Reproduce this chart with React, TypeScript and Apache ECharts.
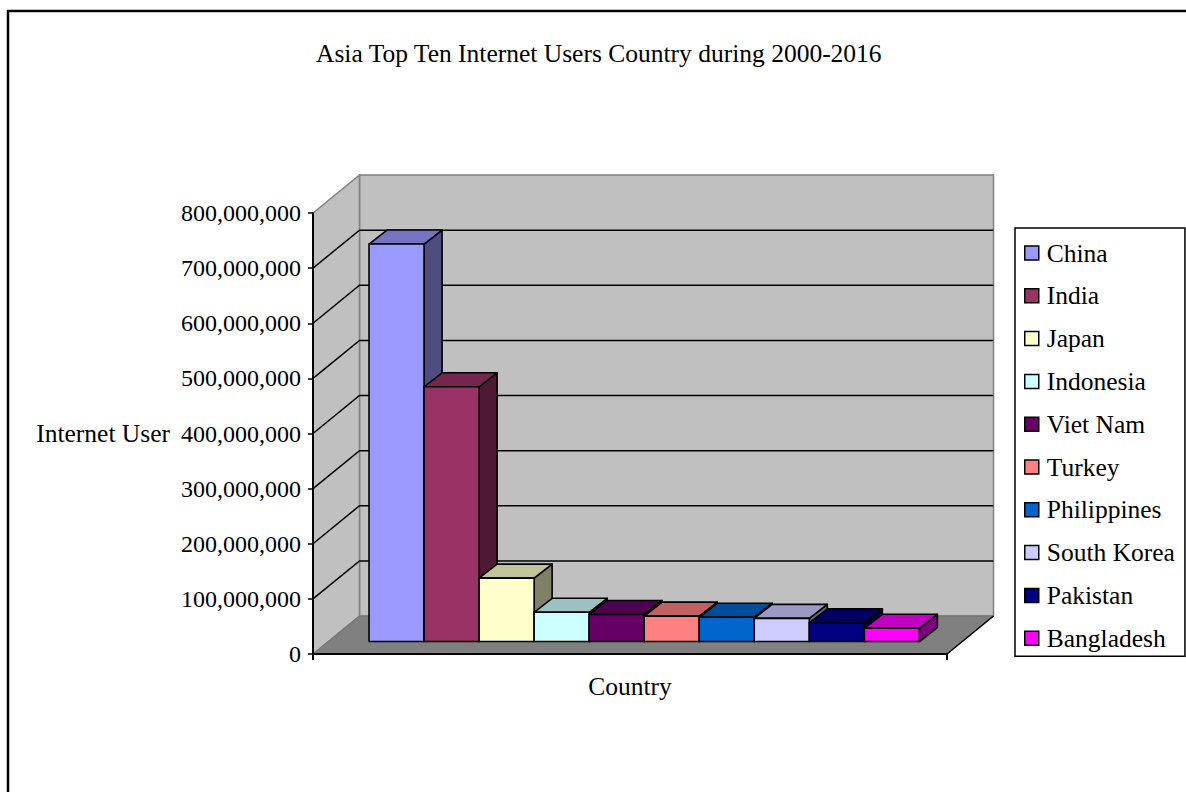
import React, { useEffect, useRef } from "react";
import * as echarts from "echarts";

const TITLE = "Asia Top Ten Internet Users Country during 2000-2016";
const COUNTRIES = ["China", "India", "Japan", "Indonesia", "Viet Nam", "Turkey", "Philippines", "South Korea", "Pakistan", "Bangladesh"];
const USERS = [721000000, 462000000, 115000000, 53000000, 49000000, 46000000, 44000000, 42000000, 34000000, 24000000];
const COLORS = ["#9999FF", "#993366", "#FFFFCC", "#CCFFFF", "#660066", "#FF8080", "#0066CC", "#CCCCFF", "#000080", "#FF00FF"];
const Y_MIN = 0;
const Y_MAX = 800000000;
const Y_STEP = 100000000;
const GRID_VALUES = [100000000, 200000000, 300000000, 400000000, 500000000, 600000000, 700000000];
const X_MIN = -1.24;
const X_MAX = 10.28;

const FONT = "'Liberation Serif', 'Times New Roman', serif";
const WALL_D = [46.5, -38];
const BAR_FRONT = [15.3, -12.5];
const BAR_D = [18, -14];

function shade(hex: string, k: number): string {
  const n = parseInt(hex.slice(1), 16);
  const r = Math.round(((n >> 16) & 255) * k);
  const g = Math.round(((n >> 8) & 255) * k);
  const b = Math.round((n & 255) * k);
  return `rgb(${r},${g},${b})`;
}

export default function App() {
  const ref = useRef<HTMLDivElement>(null);
  useEffect(() => {
    document.body.style.margin = "0";
    document.body.style.overflow = "hidden";
    const chart = echarts.init(ref.current!, null, { renderer: "svg" });

    const wallSeries: any = {
      type: "custom",
      name: "walls",
      xAxisIndex: 1,
      yAxisIndex: 0,
      z: 1,
      silent: true,
      data: [[0]],
      renderItem: (_p: any, api: any) => {
        const ft = api.coord([X_MIN, Y_MAX]);
        const fb = api.coord([X_MAX, Y_MIN]);
        const [dx, dy] = WALL_D;
        const l = ft[0], t = ft[1], r = fb[0], b = fb[1];
        return {
          type: "group",
          children: [
            {
              type: "polygon",
              shape: { points: [[l + dx, t + dy], [r + dx, t + dy], [r + dx, b + dy], [l + dx, b + dy]] },
              style: { fill: "#C0C0C0", stroke: "#808080", lineWidth: 1.5 },
            },
            {
              type: "polygon",
              shape: { points: [[l, t], [l + dx, t + dy], [l + dx, b + dy], [l, b]] },
              style: { fill: "#C0C0C0", stroke: "#808080", lineWidth: 1.5 },
            },
            {
              type: "polygon",
              shape: { points: [[l, b], [l + dx, b + dy], [r + dx, b + dy], [r, b]] },
              style: { fill: "#808080", stroke: "#707070", lineWidth: 1 },
            },
            {
              type: "line",
              shape: { x1: r, y1: b, x2: r + dx, y2: b + dy },
              style: { stroke: "#000", lineWidth: 1.5 },
            },
          ],
        };
      },
    };

    const gridSeries: any = {
      type: "custom",
      name: "gridlines",
      xAxisIndex: 1,
      yAxisIndex: 0,
      z: 2,
      silent: true,
      data: GRID_VALUES.map((v) => [v]),
      renderItem: (_p: any, api: any) => {
        const v = api.value(0);
        const a = api.coord([X_MIN, v]);
        const c = api.coord([X_MAX, v]);
        const [dx, dy] = WALL_D;
        return {
          type: "polyline",
          shape: { points: [[a[0], a[1]], [a[0] + dx, a[1] + dy], [c[0] + dx, c[1] + dy]] },
          style: { stroke: "#000", lineWidth: 1.5, fill: null },
        };
      },
    };

    const barSeries: any[] = COUNTRIES.map((name, i) => ({
      type: "custom",
      name,
      xAxisIndex: 1,
      yAxisIndex: 0,
      z: 3 + i * 0.01,
      itemStyle: { color: COLORS[i], borderColor: "#000", borderWidth: 1.5 },
      data: [[i, USERS[i]]],
      renderItem: (_p: any, api: any) => {
        const x = api.value(0);
        const v = api.value(1);
        const p0 = api.coord([x - 0.5, 0]);
        const p1 = api.coord([x + 0.5, v]);
        const l = p0[0] + BAR_FRONT[0];
        const r = p1[0] + BAR_FRONT[0];
        const b = p0[1] + BAR_FRONT[1];
        const t = p1[1] + BAR_FRONT[1];
        const [dx, dy] = BAR_D;
        const edge = { stroke: "#000", lineWidth: 1.6, lineJoin: "round" };
        return {
          type: "group",
          children: [
            {
              type: "polygon",
              shape: { points: [[r, t], [r + dx, t + dy], [r + dx, b + dy], [r, b]] },
              style: { fill: shade(COLORS[i], 0.5), ...edge },
            },
            {
              type: "polygon",
              shape: { points: [[l, t], [r, t], [r + dx, t + dy], [l + dx, t + dy]] },
              style: { fill: shade(COLORS[i], 0.76), ...edge },
            },
            {
              type: "polygon",
              shape: { points: [[l, t], [r, t], [r, b], [l, b]] },
              style: { fill: COLORS[i], ...edge },
            },
          ],
        };
      },
    }));

    chart.setOption({
      animation: false,
      backgroundColor: "#fff",
      title: {
        text: TITLE,
        left: 316,
        top: 40,
        padding: 0,
        textStyle: { fontSize: 25.5, fontWeight: "normal", fontFamily: FONT, color: "#000" },
      },
      graphic: [
        {
          type: "rect",
          shape: { x: 8, y: 11, width: 1250, height: 850 },
          style: { fill: "none", stroke: "#000", lineWidth: 2.5 },
          silent: true,
          z: 100,
        },
      ],
      legend: {
        data: COUNTRIES,
        orient: "vertical",
        left: 1015,
        top: 228,
        padding: [12, 10, 5, 9],
        itemGap: 16.8,
        itemWidth: 14,
        itemHeight: 14,
        icon: "rect",
        backgroundColor: "#fff",
        borderColor: "#000",
        borderWidth: 1.5,
        borderRadius: 0,
        itemStyle: { borderColor: "#000", borderWidth: 1.5 },
        textStyle: { fontSize: 25.5, lineHeight: 26, fontFamily: FONT, color: "#000", padding: [0, 0, 0, 3] },
        selectedMode: false,
      },
      grid: { left: 313, top: 213, width: 634, height: 441, containLabel: false },
      xAxis: [
        {
          type: "category",
          data: [""],
          boundaryGap: true,
          z: 10,
          axisLine: { show: true, onZero: false, lineStyle: { color: "#000", width: 2 } },
          axisTick: { show: true, length: 6, lineStyle: { color: "#000", width: 2 } },
          axisLabel: { show: false },
          splitLine: { show: false },
          name: "Country",
          nameLocation: "middle",
          nameGap: 19,
          nameTextStyle: { fontSize: 25.5, fontFamily: FONT, color: "#000" },
        },
        {
          type: "value",
          min: X_MIN,
          max: X_MAX,
          show: false,
          axisLine: { show: false, onZero: false },
          splitLine: { show: false },
        },
      ],
      yAxis: {
        type: "value",
        min: Y_MIN,
        max: Y_MAX,
        interval: Y_STEP,
        z: 10,
        axisLine: { show: true, onZero: false, lineStyle: { color: "#000", width: 2 } },
        axisTick: { show: true, length: 5, lineStyle: { color: "#000", width: 1.5 } },
        splitLine: { show: false },
        axisLabel: {
          fontSize: 24,
          fontFamily: FONT,
          color: "#000",
          margin: 12,
          formatter: (v: number) => v.toLocaleString("en-US"),
        },
        name: "Internet User",
        nameLocation: "middle",
        nameRotate: 0,
        nameGap: 143,
        nameTextStyle: { fontSize: 25.5, fontFamily: FONT, color: "#000" },
      },
      series: [wallSeries, gridSeries, ...barSeries],
    });
    return () => chart.dispose();
  }, []);
  return <div ref={ref} style={{ width: 1186, height: 792 }} />;
}
